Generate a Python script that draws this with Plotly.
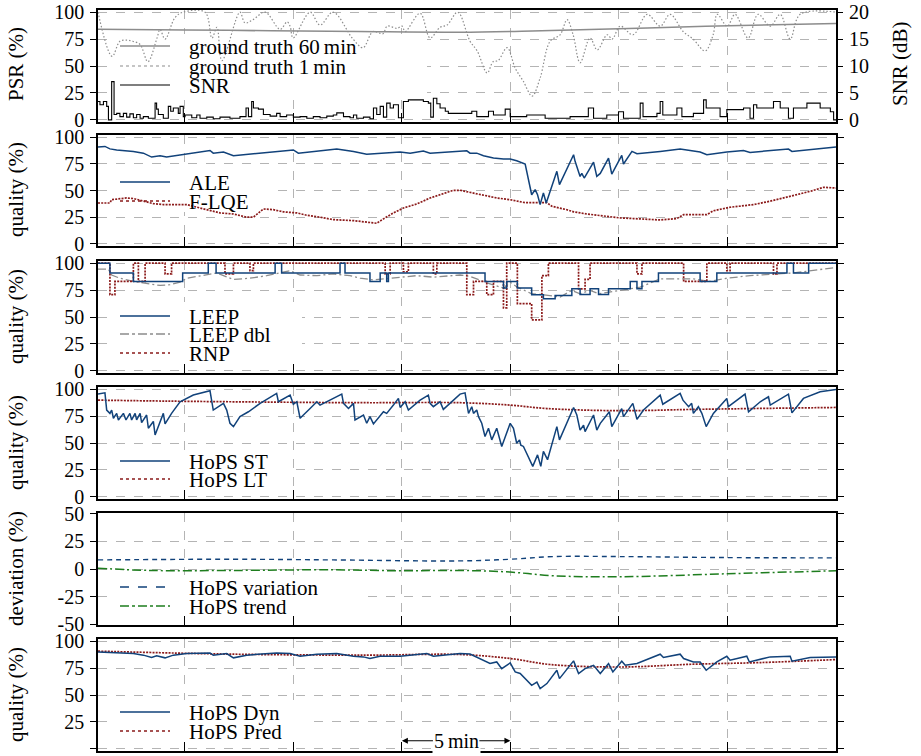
import plotly.graph_objects as go

# ---------------- data (time in minutes) ----------------
# Panel 1: ground truth PSR and SNR
gt60_t = [0, 4, 8, 12, 16.68, 20, 24, 28, 34]
gt60_v = [84.2, 83.5, 82.7, 82.0, 81.4, 82.5, 84.6, 86.8, 89.5]

gt1_t = [0, 0.65, 1.01, 1.34, 1.6, 1.94, 2.30, 2.72, 2.86, 3.09, 3.55, 3.92, 4.93, 5.25,
         5.48, 5.71, 6.54, 6.77, 7.14, 7.70, 8.39, 8.71, 8.85, 8.99, 9.77, 10.23, 10.83,
         11.75, 12.21, 12.67, 13.13, 13.32, 13.78, 14.01, 14.15, 14.84, 15.30, 15.76, 16.08,
         16.54, 16.68, 17.14, 17.47, 17.93, 18.20, 18.43, 18.85, 19.22, 19.59, 20.0, 20.37,
         20.83, 21.29, 21.61, 21.89, 22.21, 22.67, 23.00, 23.46, 23.69, 24.06, 24.65, 25.30,
         25.90, 26.36, 26.96, 27.42, 27.97, 28.34, 28.53, 28.99, 29.35, 29.95, 30.41, 30.97,
         31.43, 31.89, 32.35, 34]
gt1_v = [100, 59, 73, 74, 73, 70, 54, 76, 84, 75, 95, 100, 100, 76,
         86, 55, 100, 90, 93, 100, 84, 91, 87, 76, 100, 88, 100,
         75, 67, 82, 80, 87, 85, 87, 82, 99, 76, 86, 88,
         100, 98, 73, 64, 43.5, 54, 55, 67, 48, 36, 22, 39,
         73, 79, 93, 79, 53, 76, 65, 79, 75, 87, 79, 98,
         87, 98, 82, 75, 64, 79, 98, 87, 98, 76, 98, 87,
         98, 75, 98, 100]

snr_t = [0, 0.09, 0.25, 0.40, 0.48, 0.63, 0.74, 0.86, 1.01, 1.17, 1.32, 1.47, 1.63, 1.78,
         1.94, 2.09, 2.32, 2.63, 2.70, 2.78, 3.01, 3.24, 3.35, 3.47, 3.70, 3.78, 3.93, 4.01,
         4.32, 4.55, 4.70, 5.01, 5.31, 5.62, 6.08, 6.54, 6.82, 6.93, 7.08, 7.16, 7.39, 7.62,
         7.93, 8.23, 8.39, 8.69, 9.00, 9.31, 9.62, 9.92, 10.23, 10.54, 10.84, 11.00, 11.31,
         11.61, 11.77, 11.92, 12.23, 12.53, 12.69, 12.84, 13.00, 13.15, 13.30, 13.46, 13.61,
         13.84, 14.07, 14.30, 14.99, 15.22, 15.33, 15.45, 15.61, 15.76, 16.0, 16.14, 16.68,
         17.22, 17.45, 17.99, 18.22, 18.76, 18.99, 19.75, 20.60, 21.75, 22.59, 22.83, 23.44,
         23.98, 24.21, 24.98, 25.11, 25.75, 25.90, 26.02, 26.67, 26.90, 27.43, 27.90, 28.02,
         28.66, 28.97, 29.74, 30.04, 30.20, 30.35, 31.12, 31.43, 31.81, 32.04, 32.66, 33.27,
         33.74, 33.89, 34]
snr_db = [3.4, 2.8, 3.4, 2.5, 0, 7.1, 1.0, 1.2, 0.6, 1.2, 0.5, 1.1, 0.4, 1.0,
          0.3, 0.6, 0.3, 3.1, 2.0, 1.0, 0.3, 2.5, 1.6, 2.2, 1.2, 2.5, 0.6, 0.9,
          0.4, 0.9, 0.3, 0.5, 0.2, 0.5, 0.3, 0.6, 2.2, 0.6, 3.4, 2.2, 2.0, 1.0,
          0.7, 1.2, 0.6, 0.9, 0.5, 0.6, 0.3, 0.6, 0.4, 0.7, 0.9, 1.3, 0.6,
          0.4, 0.9, 0.3, 0.5, 0.2, 2.2, 1.0, 2.5, 0.5, 3.1, 2.2, 2.8,
          0.4, 3.4, 3.7, 3.4, 3.1, 0.5, 4.0, 3.0, 2.2, 1.6, 1.2, 1.2,
          1.6, 0.6, 1.6, 0.9, 2.0, 0.6, 0.9, 0.3, 0.6, 2.2, 0.3, 0.9,
          1.5, 0.3, 3.1, 0.6, 1.2, 3.4, 0.9, 2.2, 0.6, 1.2, 3.7, 2.2,
          0.6, 1.9, 2.2, 0.3, 2.8, 2.2, 3.4, 2.2, 0.3, 2.2, 3.1, 2.2,
          1.5, 0, 0]

# Panel 2: ALE and F-LQE
ale_t = [0.0, 0.32, 0.55, 0.86, 1.63, 2.09, 2.47, 2.86, 3.16, 3.63, 4.09, 4.70, 5.16, 5.31,
         5.78, 6.24, 7.00, 7.77, 8.54, 9.00, 9.23, 10.08, 11.00, 11.31, 11.77, 12.38, 13.15,
         13.92, 14.38, 14.99, 15.30, 15.91, 16.68, 16.99, 17.14, 17.45, 17.76, 18.22, 18.68,
         18.99, 19.29, 19.68, 19.98, 20.14, 20.25, 20.37, 20.52, 20.65, 21.14, 21.26, 21.91,
         21.98, 22.21, 22.29, 22.40, 22.52, 22.83, 22.98, 23.14, 23.52, 23.67, 24.13, 24.21,
         24.60, 24.83, 25.90, 26.82, 27.74, 28.05, 28.97, 29.74, 30.04, 30.97, 31.81, 31.97, 34.0]
ale_v = [90.7, 91.3, 89, 88, 86.6, 85, 81.3, 82.6, 81.3, 82.6, 84, 86, 87.5, 85,
         86, 82.6, 84, 86, 87.5, 88, 85, 86.6, 88.8, 88, 86.6, 84, 85,
         86, 85, 87, 85, 86, 87.2, 87.2, 85, 85, 82.6, 80.4, 79.4,
         79.4, 77.9, 74.8, 46, 50.8, 46, 36.8, 47.7, 38.3, 68, 55.5, 83.5,
         77.3, 63.2, 66, 61.7, 66, 76.6, 63.2, 66, 80.4, 65.4, 82.9, 74.8,
         86.6, 84.4, 86.6, 88.8, 86, 83.5, 86, 87.5, 85.7, 87.2, 88.8, 86.6, 90.7]

flqe_t = [0.0, 0.55, 0.63, 1.32, 1.63, 2.09, 2.55, 3.01, 3.47, 4.09, 4.70, 5.16, 5.62, 6.24,
          6.85, 7.16, 7.62, 8.08, 8.54, 9.16, 9.62, 10.23, 10.84, 11.77, 12.38, 12.84, 13.15,
          13.61, 14.07, 14.69, 15.30, 15.91, 16.37, 16.68, 17.14, 17.76, 18.37, 18.99, 19.68,
          20.68, 20.91, 21.60, 21.91, 22.52, 23.44, 24.06, 24.67, 25.90, 26.67, 26.98, 28.05,
          28.35, 29.12, 30.20, 30.97, 31.89, 32.81, 33.43, 34.0]
flqe_v = [38.3, 38.3, 41.4, 43, 42.5, 40, 37.7, 36.8, 36.8, 36.8, 33.6, 31, 29, 28,
          25, 25, 32.7, 32, 30, 29, 26.8, 25, 22.7, 21.8, 20.6, 19.3, 23.4,
          29, 33.6, 37.4, 43, 47, 50.2, 50.2, 48.3, 46, 43, 41.4, 38.6,
          38.6, 35.2, 32, 30, 28, 25.9, 24.3, 23.7, 22.4, 23.7, 27.4, 27.4,
          31, 34.3, 36.8, 40, 44.5, 49.2, 53, 52.3]

# Panel 3: LEEP, LEEP dbl, RNP
leep_t = [0.0, 0.55, 1.63, 3.90, 5.08, 5.44, 8.16, 8.46, 11.15, 11.38, 12.53, 13.00, 13.30,
          13.38, 17.83, 18.68, 18.83, 19.32, 19.98, 20.52, 21.06, 21.83, 22.21, 22.67, 23.06,
          23.52, 24.52, 24.83, 25.06, 25.82, 27.74, 28.51, 31.74, 32.04, 32.74, 34.0]
leep_v = [100, 90.9, 83, 90.9, 100, 90.9, 100, 90.9, 100, 90.9, 83, 90.9, 83,
          90.9, 83, 77, 83, 77, 70.7, 67, 70, 76.2, 71, 76.2, 71,
          76.2, 83, 76.2, 83, 90.9, 83, 90.9, 100, 90.9, 100, 100]

leepdbl_t = [0.0, 0.48, 0.63, 1.01, 1.63, 2.40, 2.86, 3.32, 3.78, 4.09, 4.70, 5.47, 6.24, 7.00,
             7.77, 8.85, 9.31, 10.08, 10.84, 11.61, 12.07, 12.69, 13.15, 13.92, 14.69, 15.45,
             16.68, 17.14, 17.83, 18.68, 18.99, 19.32, 19.98, 20.52, 21.29, 21.83, 22.21, 22.67,
             23.06, 24.06, 24.98, 25.90, 27.43, 28.20, 28.97, 30.04, 31.12, 32.04, 34.0]
leepdbl_v = [94.5, 94.5, 89, 86, 83, 80.8, 79.3, 80, 82.3, 86, 88.4, 90.9, 84.8, 86,
             88.4, 93, 89, 88.4, 90, 88.4, 86, 84.5, 85.4, 87, 88.4, 87,
             89, 87.8, 82.3, 76.8, 82.3, 77.7, 71.6, 70.7, 68.6, 74.7, 71.6, 74.7,
             71.6, 74.7, 77.7, 85.4, 85.4, 83, 86, 88.4, 90, 90.9, 96]

rnp_t = [0.0, 0.55, 0.78, 1.63, 1.86, 2.17, 3.09, 3.39, 5.85, 6.24, 7.00, 7.16, 13.23, 13.46,
         14.07, 14.30, 15.45, 15.61, 16.99, 17.30, 17.91, 18.22, 18.68, 18.83, 19.32, 19.98,
         20.45, 20.75, 22.14, 22.44, 22.67, 24.83, 25.06, 26.98, 28.05, 28.97, 29.12, 31.12,
         31.28, 34.0]
rnp_v = [100, 70.7, 83, 100, 83, 100, 90, 100, 90, 100, 93, 100, 90, 100,
         92, 100, 90, 100, 70.7, 83, 70.7, 83, 58.5, 100, 62.5, 47.3,
         88.4, 100, 76.2, 85, 100, 90, 100, 83, 100, 93, 100, 90,
         100, 100]

# Panel 4: HoPS short term / long term
st_t = [0.0, 0.32, 0.40, 0.55, 0.63, 0.71, 0.86, 0.94, 1.17, 1.29, 1.47, 1.55, 1.71, 1.78,
        1.94, 2.01, 2.24, 2.32, 2.55, 2.63, 3.01, 3.09, 3.39, 3.78, 4.39, 5.16, 5.31, 5.78,
        5.93, 6.08, 6.24, 6.54, 6.93, 7.47, 8.23, 8.31, 8.85, 9.00, 9.16, 9.31, 9.77, 10.08,
        10.23, 10.84, 11.23, 11.31, 11.54, 11.77, 11.84, 12.23, 12.38, 12.53, 12.69, 13.15,
        13.30, 13.61, 13.84, 13.92, 14.15, 14.30, 14.84, 15.22, 15.30, 15.45, 15.76, 15.91,
        16.37, 16.68, 16.91, 17.07, 17.22, 17.30, 17.45, 17.53, 17.68, 17.83, 17.99, 18.14,
        18.37, 18.60, 18.99, 19.14, 19.29, 19.42, 19.48, 19.60, 20.03, 20.25, 20.40, 20.52,
        20.71, 21.14, 21.26, 21.91, 22.06, 22.21, 22.37, 22.44, 22.83, 22.98, 23.14, 23.56,
        23.67, 24.13, 24.21, 24.64, 24.83, 25.13, 25.90, 26.02, 26.82, 26.95, 27.21, 27.35,
        27.43, 27.66, 27.82, 28.02, 28.35, 28.97, 29.04, 29.81, 29.97, 30.51, 30.89, 30.97,
        31.81, 31.97, 32.50, 33.27, 34.0]
st_v = [95.4, 96.6, 80.6, 77.5, 80.6, 73, 77.5, 71.4, 77.5, 71.4, 77.5, 71.4, 77.5, 71.4,
        77.5, 69, 76, 63.7, 70, 57.5, 77.5, 67.7, 77.5, 88.3, 94.5, 98.5, 80.6, 86.8,
        80.6, 68.3, 65.2, 74.5, 79, 86.8, 96, 88.3, 94.5, 86, 88.3, 73, 82, 88.3,
        85.2, 91.4, 95.4, 86.8, 82, 86.8, 71.4, 76, 68.3, 74.5, 67.7, 79,
        77.5, 85.2, 91.4, 83, 88.3, 80.6, 89.8, 94.5, 86.8, 83.7, 88.3, 81.2,
        89.8, 95.4, 96.6, 77.5, 83.7, 77.5, 80.6, 74.5, 68.3, 56, 63.7, 52.9,
        63.7, 46.8, 68.3, 63.7, 49.8, 52.9, 48, 46.8, 28.3, 39, 28.3, 42.2,
        34.5, 65.2, 52.9, 83, 76, 62, 66.5, 60.6, 76, 62, 68.3, 79,
        65.2, 82, 74.5, 86.8, 72, 80.6, 94.5, 86, 96, 89.8, 83.7, 86.8,
        77.5, 83.7, 77.5, 65.2, 77.5, 91.4, 83.7, 95.4, 79, 88.3, 92.9, 85.2,
        95.4, 78, 91.4, 97.5, 99.7]

lt_t = [0, 3.2, 7.8, 12.4, 16.68, 18.99, 20.68, 24.06, 27.43, 34]
lt_v = [89.8, 88.9, 88, 87.4, 87.4, 85.2, 82, 80, 81.2, 83]

# Panel 5: HoPS variation / trend (deviation in %)
var_t = [0, 6.24, 10.84, 16.68, 18.99, 20.98, 24.06, 28.97, 34]
var_v = [8.2, 8.8, 8.2, 7.3, 8.8, 11.2, 11.2, 10.3, 10]
trend_t = [0, 2.4, 6.24, 10.84, 13.92, 16.68, 18.99, 20.98, 24.06, 28.97, 34]
trend_v = [0.7, -1.3, -1.3, -0.7, -1.6, -1.3, -2.8, -6.1, -7, -4.3, -1.6]

# Panel 6: HoPS dynamic estimate / prediction
dyn_t = [0.0, 1.63, 2.09, 2.47, 2.70, 3.09, 3.47, 4.09, 5.16, 5.31, 5.93, 6.24, 6.85, 8.23,
         8.85, 9.31, 10.08, 11.00, 11.77, 12.23, 12.53, 12.99, 13.92, 15.15, 15.45, 15.91,
         16.68, 17.14, 17.60, 18.06, 18.37, 18.60, 18.99, 19.22, 19.45, 19.98, 20.22, 20.37,
         20.68, 21.14, 21.26, 21.91, 22.14, 22.44, 22.83, 23.14, 23.52, 23.72, 24.13, 24.29,
         24.83, 25.90, 26.05, 26.82, 26.98, 27.27, 27.43, 27.74, 28.02, 28.51, 28.97, 29.12,
         29.89, 30.01, 30.97, 31.89, 31.97, 32.81, 34.0]
dyn_v = [90, 88.5, 87, 84.8, 86.5, 84.5, 87, 88.5, 89.1, 87, 88.5, 84.5, 87, 89.1,
         88.5, 86, 87.9, 88.5, 86, 85.4, 83.9, 86, 86, 88.5, 86, 87,
         88.5, 88, 83.9, 79.2, 80.7, 74.5, 79.8, 71.4, 70, 59, 62, 55.9,
         60.6, 73, 65.2, 81.7, 69.9, 74.5, 77.6, 69.9, 79.2, 71.4, 81.4, 77.6,
         79.2, 87.9, 84.8, 87.9, 83.9, 82.3, 80.7, 80.7, 73, 80.7, 86, 82.3,
         86, 80.7, 85.4, 86, 81.4, 84.8, 85.4]
pred_t = [0, 6.24, 12.38, 16.68, 18.99, 20.83, 24.06, 27.43, 30.51, 34]
pred_v = [90.7, 87.9, 87, 87.6, 83.9, 78.3, 76, 78.6, 80.1, 82.9]

pct_ticks = [0, 25, 50, 75, 100]
dev_ticks = [-50, -25, 0, 25, 50]
dev_labels = ["-50", "-25", "0", "25", "50"]
snr_ticks = [0, 5, 10, 15, 20]
time_grid = [4, 9, 14, 19, 24, 29]

# ---------------- styling ----------------
FONT = "Liberation Serif"
W, H = 921, 756
ML, MR = 98, 85
PW = W - ML - MR
XR = [0, 34]
TOPS = [10, 135, 261, 387, 513, 639]
BOTS = [122, 246, 373, 499, 625, 751]
PCT_RANGE = [-2, 102]
DEV_RANGE = [-50.5, 50.5]

BLUE = "#11427a"
RED = "#8b1a1a"
GRAY = "#8c8c8c"
GREEN = "#1e7d1e"
GRID = "#b4b4b4"


def fx(px):
    return (px - ML) / PW


def fy(py):
    return 1 - py / H


def yrange(i):
    return DEV_RANGE if i == 5 else PCT_RANGE


def px_to_t(px):
    return XR[0] + fx(px) * (XR[1] - XR[0])


def px_to_v(i, py):
    lo, hi = yrange(i)
    top, bot = TOPS[i - 1], BOTS[i - 1]
    return lo + (bot - py) / (bot - top) * (hi - lo)


fig = go.Figure()


def add(t, v, i, color, width, dash="solid", shape="linear", yaxis=None):
    ax = "" if i == 1 else str(i)
    fig.add_trace(go.Scatter(
        x=t, y=v, mode="lines", xaxis="x" + ax, yaxis=yaxis or ("y" + ax),
        line=dict(color=color, width=width, dash=dash, shape=shape),
        showlegend=False, hoverinfo="skip"))


add(gt1_t, gt1_v, 1, GRAY, 1.2, "1.5px,2px", "spline")
add(gt60_t, gt60_v, 1, GRAY, 1.5, "solid", "spline")
add(snr_t, snr_db, 1, "black", 1.1, "solid", "hv", yaxis="y7")

add(flqe_t, flqe_v, 2, RED, 1.7, "2px,1.2px")
add(ale_t, ale_v, 2, BLUE, 1.5)

add(leepdbl_t, leepdbl_v, 3, GRAY, 1.3, "8px,3px,2px,3px")
add(rnp_t, rnp_v, 3, RED, 1.7, "2px,1.2px", "hv")
add(leep_t, leep_v, 3, BLUE, 1.5, "solid", "hv")

add(lt_t, lt_v, 4, RED, 1.7, "2px,1.2px", "spline")
add(st_t, st_v, 4, BLUE, 1.5)

add(var_t, var_v, 5, BLUE, 1.4, "5px,4px", "spline")
add(trend_t, trend_v, 5, GREEN, 1.5, "9px,3px,2px,3px", "spline")

add(pred_t, pred_v, 6, RED, 1.7, "2px,1.2px", "spline")
add(dyn_t, dyn_v, 6, BLUE, 1.5)

layout = dict(
    width=W, height=H, margin=dict(l=ML, r=MR, t=0, b=0, autoexpand=False),
    paper_bgcolor="white", plot_bgcolor="white",
    font=dict(family=FONT, size=20, color="black"),
)

for i in range(1, 7):
    ax = "" if i == 1 else str(i)
    dom = [fy(BOTS[i - 1]), fy(TOPS[i - 1])]
    layout["xaxis" + ax] = dict(
        domain=[0, 1], range=XR, anchor="y" + ax, automargin=False,
        tickvals=time_grid, showticklabels=False, ticks="inside", ticklen=9,
        tickwidth=1.3, tickcolor="black",
        showgrid=True, gridcolor=GRID, griddash="dash", gridwidth=1,
        showline=True, linecolor="black", linewidth=1.6, mirror=True, zeroline=False)
    if i == 5:
        tv, tt = dev_ticks, dev_labels
    else:
        tv, tt = pct_ticks, [str(v) for v in pct_ticks]
    layout["yaxis" + ax] = dict(
        domain=dom, range=yrange(i), anchor="x" + ax, tickvals=tv, ticktext=tt,
        automargin=False,
        ticks="outside", ticklen=6, tickwidth=1.3, tickcolor="black",
        ticklabelstandoff=2,
        showgrid=True, gridcolor=GRID, griddash="dash", gridwidth=1,
        showline=True, linecolor="black", linewidth=1.6,
        mirror=True if i == 1 else "ticks", zeroline=False)

layout["yaxis7"] = dict(
    overlaying="y", side="right", anchor="x", range=[-0.4, 20.4], automargin=False,
    tickvals=snr_ticks, ticks="outside", ticklen=6, tickwidth=1.3, tickcolor="black",
    ticklabelstandoff=2, showgrid=False, zeroline=False, showline=False)

shapes = []
annotations = []

# white legend backgrounds: above the grid, below the data
legend_boxes = [(1, 108, 427, 34, 100), (2, 108, 273, 170, 212), (3, 108, 302, 302, 365),
                (4, 108, 293, 450, 490), (5, 108, 365, 575, 618), (6, 108, 313, 700, 745)]
for i, x0, x1, y0, y1 in legend_boxes:
    ax = "" if i == 1 else str(i)
    shapes.append(dict(type="rect", xref="x" + ax, yref="y" + ax,
                       x0=px_to_t(x0), x1=px_to_t(x1),
                       y0=px_to_v(i, y1), y1=px_to_v(i, y0),
                       fillcolor="white", line=dict(width=0), layer="between"))

legend_items = [
    ("ground truth 60\u2009min", 46, GRAY, 1.5, "solid"),
    ("ground truth 1\u2009min", 66, GRAY, 1.2, "dot"),
    ("SNR", 85, "black", 1.2, "solid"),
    ("ALE", 182, BLUE, 1.5, "solid"),
    ("F-LQE", 201, RED, 1.7, "dot"),
    ("LEEP", 316, BLUE, 1.5, "solid"),
    ("LEEP dbl", 334, GRAY, 1.3, "dashdot"),
    ("RNP", 353, RED, 1.7, "dot"),
    ("HoPS ST", 461, BLUE, 1.5, "solid"),
    ("HoPS LT", 479, RED, 1.7, "dot"),
    ("HoPS variation", 587, BLUE, 1.4, "dash"),
    ("HoPS trend", 606, GREEN, 1.5, "dashdot"),
    ("HoPS Dyn", 712, BLUE, 1.5, "solid"),
    ("HoPS Pred", 731, RED, 1.7, "dot"),
]
for text, py, color, width, dash in legend_items:
    shapes.append(dict(type="line", xref="paper", yref="paper", x0=fx(120), x1=fx(170),
                       y0=fy(py), y1=fy(py), line=dict(color=color, width=width, dash=dash),
                       layer="above"))
    annotations.append(dict(text=text, xref="paper", yref="paper", x=fx(187), y=fy(py + 1),
                            xanchor="left", yanchor="middle", showarrow=False,
                            font=dict(size=21)))

# axis titles
titles = [("PSR (%)", 16, 64), ("quality (%)", 16, 190), ("quality (%)", 16, 317),
          ("quality (%)", 16, 443), ("deviation (%)", 16, 569), ("quality (%)", 16, 695)]
for text, px, py in titles:
    annotations.append(dict(text=text, xref="paper", yref="paper", x=fx(px), y=fy(py),
                            xanchor="center", yanchor="middle", textangle=-90,
                            showarrow=False, font=dict(size=21)))
annotations.append(dict(text="SNR (dB)", xref="paper", yref="paper", x=fx(900), y=fy(64),
                        xanchor="center", yanchor="middle", textangle=-90,
                        showarrow=False, font=dict(size=21)))

# 5 minute scale marker
annotations.append(dict(text="5\u2009min", x=16.5, y=7.5, xref="x6", yref="y6",
                        showarrow=False, font=dict(size=20), bgcolor="white"))
for head, tail in [(14, 15.5), (19, 17.5)]:
    annotations.append(dict(text="", x=head, y=7.5, ax=tail, ay=7.5, xref="x6", yref="y6",
                            axref="x6", ayref="y6", showarrow=True, arrowhead=2,
                            arrowsize=1, arrowwidth=1.2, arrowcolor="black"))

layout["shapes"] = shapes
layout["annotations"] = annotations
fig.update_layout(**layout)
fig.write_html("out.html")
